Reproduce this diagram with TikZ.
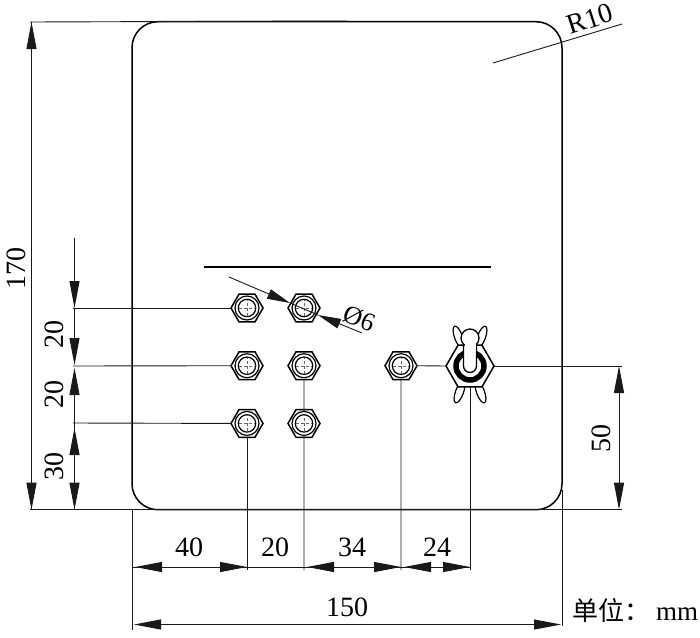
\documentclass[tikz,border=0pt]{standalone}
\usepackage{fontspec}
\setmainfont{Liberation Serif}
\newfontfamily\cjkfont{Noto Sans CJK SC}
\usetikzlibrary{arrows.meta,shapes.geometric,positioning}

\begin{document}
\begin{tikzpicture}[
  x=1pt, y=-1pt,
  font=\fontsize{28}{30}\selectfont,
  thin line/.style = {draw=black!90, line width=0.9pt},
  dim/.style       = {thin line, -{Triangle[length=27pt,width=10pt]}},
  dimshort/.style  = {thin line, -{Triangle[length=23pt,width=10pt]}},
  dimboth/.style   = {thin line, {Triangle[length=27pt,width=10pt]}-{Triangle[length=27pt,width=10pt]}},
  label/.style     = {inner sep=0pt},
  panel/.style     = {rectangle, draw, line width=1.5pt, rounded corners=26pt,
                      minimum width=430pt, minimum height=488pt},
  nut/.style       = {regular polygon, regular polygon sides=6, draw, fill=white,
                      line width=1.5pt, minimum size=32pt, inner sep=0pt, outer sep=0pt},
  switchnut/.style = {nut, minimum size=48pt},
  wing/.style      = {ellipse, draw, fill=white, line width=1.2pt, minimum width=8pt,
                      minimum height=23pt, inner sep=0pt}
]
\useasboundingbox (0,0) rectangle (700,637);

\node[panel] (panel) at (347,265.7) {};

% bar above the nuts
\coordinate (barL) at (204,267);
\coordinate (barR) at (491,267);
\draw[line width=1.6pt] (barL) -- (barR);

% free ends of the extension lines
\coordinate (topL)  at (30,22);
\coordinate (botL)  at (30,509.7);
\coordinate (botR)  at (622,509.7);
\coordinate (far)   at (622,366);
\coordinate (dimA)  at (31.5,22);
\coordinate (dimAb) at (31.5,509.7);
\coordinate (dimB)  at (74.5,238);
\coordinate (pA1)   at (73,308);
\coordinate (pA2)   at (73,366);
\coordinate (pA3)   at (73,423);
\coordinate (tA1)   at (74.5,308);
\coordinate (tA2)   at (74.5,365);
\coordinate (tA2b)  at (74.5,368);
\coordinate (tA3)   at (74.5,423);
\coordinate (tA3b)  at (74.5,428);
\coordinate (tA4)   at (74.5,509.7);
\coordinate (dimC)  at (619,366);
\coordinate (dimCb) at (619,509.7);

% horizontal dimension rows
\coordinate (x0) at (132,567);
\coordinate (x1) at (247,567);
\coordinate (x2) at (304,567);
\coordinate (x3) at (401,567);
\coordinate (x4) at (470,567);
\coordinate (x0t) at (135,567);
\coordinate (x2t) at (307,567);
\coordinate (x3t) at (404,567);
\coordinate (e0) at (132,630);
\coordinate (e0b) at (132,509);
\coordinate (e5) at (562,490);
\coordinate (e5b) at (562,626);
\coordinate (w0) at (134,624.5);
\coordinate (w1) at (561,624.5);
\coordinate (e1) at (247,570);
\coordinate (e2) at (304,570);
\coordinate (e3) at (401,570);
\coordinate (e4) at (470,570);

% radius and diameter leaders
\coordinate (radA) at (493,63);
\coordinate (radB) at (622,24);
\coordinate (diaA) at (229,277);
\coordinate (diaB) at (290,303);
\coordinate (diaC) at (362,333);
\coordinate (diaD) at (318,315);

\draw[thin line] (topL) -- (panel.north);
\draw[thin line] (botL) -- (botR);
\draw[thin line] (radA) -- (radB);

% wings go under the switch body
\node[wing, rotate=20]  (wingTL) at (458.5,337) {};
\node[wing, rotate=-20] (wingTR) at (481.5,337) {};
\node[wing, rotate=-20] (wingBL) at (459.5,392) {};
\node[wing, rotate=20]  (wingBR) at (480.5,392) {};

% nuts
\node[nut] (nutA1) at (247,308) {};
\node[nut, right=25pt of nutA1] (nutB1) {};
\node[nut, below=30pt of nutA1] (nutA2) {};
\node[nut, right=25pt of nutA2] (nutB2) {};
\node[nut, below=30pt of nutA2] (nutA3) {};
\node[nut, right=25pt of nutA3] (nutB3) {};
\node[nut, right=65pt of nutB2] (nutC2) {};
\node[switchnut] (sw) at (470,366) {};

% extension lines
\draw[thin line] (pA1) -- (nutA1.west);
\draw[thin line] (pA2) -- (nutA2.west);
\draw[thin line] (pA3) -- (nutA3.west);
\draw[thin line] (nutC2.east) -- (sw.west);
\draw[thin line] (sw.east) -- (far);
\draw[thin line] (nutA3.south) -- (e1);
\draw[thin line] (nutB2.south) -- (e2);
\draw[thin line] (nutC2.south) -- (e3);
\draw[thin line] (sw.south) -- (e4);
\draw[thin line] (e0b) -- (e0);
\draw[thin line] (e5) -- (e5b);

\foreach \n in {nutA1,nutB1,nutA2,nutB2,nutA3,nutB3,nutC2} {
  \draw[fill=white, line width=1.2pt] (\n.center) circle (12pt);
  \draw[line width=1.2pt] (\n.center) circle (8.7pt);
  \draw[densely dashed, draw=black!60, line width=0.4pt] ([xshift=-8pt]\n.center) -- ([xshift=8pt]\n.center);
  \draw[densely dashed, draw=black!60, line width=0.4pt] ([yshift=-8pt]\n.center) -- ([yshift=8pt]\n.center);
}

% toggle switch
\draw[line width=5.5pt] (sw.center) circle (14pt);
\draw[line width=0.7pt, white] (sw.center) circle (18.5pt);
\draw[fill=white, line width=1.3pt] (463.5,340) -- (463.5,366) arc[start angle=180, end angle=360, radius=6.5pt] -- (476.5,340);
\node[circle, draw, fill=white, line width=1.3pt, minimum size=18pt, inner sep=0pt] (ball) at (470,338) {};
\draw[fill=white, draw=white] (465,344) rectangle (475,350);
\draw[line width=1.3pt] (463.5,345) -- (463.5,366);
\draw[line width=1.3pt] (476.5,345) -- (476.5,366);

% dimensions
\draw[dim] (dimAb) -- (dimA);
\draw[dim] (dimA) -- (dimAb);
\draw[dim] (dimB) -- (tA1);
\draw[dim] (tA1) -- (tA2);
\draw[dim] (tA3) -- (tA2b);
\draw[dim] (tA4) -- (tA3b);
\draw[dim] (tA3) -- (tA4);
\draw[dimboth] (dimC) -- (dimCb);
\draw[dim] (x1) -- (x0t);
\draw[dim] (x0) -- (x1);
\draw[thin line] (x1) -- (x2);
\draw[dim] (x3) -- (x2t);
\draw[dim] (x2) -- (x3);
\draw[dim] (x4) -- (x3t);
\draw[dim] (x3) -- (x4);
\draw[dimboth] (w0) -- (w1);
\draw[dimshort] (diaA) -- (diaB);
\draw[dimshort] (diaC) -- (diaD);
\draw[thin line] (diaB) -- (diaD);

% labels
\node[label, rotate=90] (l170) at (16,268) {170};
\node[label, rotate=90] (l20a) at (54,334) {20};
\node[label, rotate=90] (l20b) at (54,394) {20};
\node[label, rotate=90] (l30)  at (54,466) {30};
\node[label, rotate=90] (l50)  at (601,438) {50};
\node[label] (l40)  at (189,547) {40};
\node[label] (l20c) at (275,547) {20};
\node[label] (l34)  at (352,547) {34};
\node[label] (l24)  at (437,547) {24};
\node[label] (l150) at (347,607) {150};
\node[label, rotate=18]  (lR)   at (590,19) {R10};
\node[label, rotate=-22, font=\fontsize{26}{30}\selectfont] (ldia) at (359,319) {\O{}6};
\node[label, anchor=west] (lunit) at (572,611) {\fontsize{26}{30}\selectfont{\cjkfont 单位：}\hspace{6pt}\fontsize{27}{30}\selectfont mm};
\end{tikzpicture}
\end{document}
